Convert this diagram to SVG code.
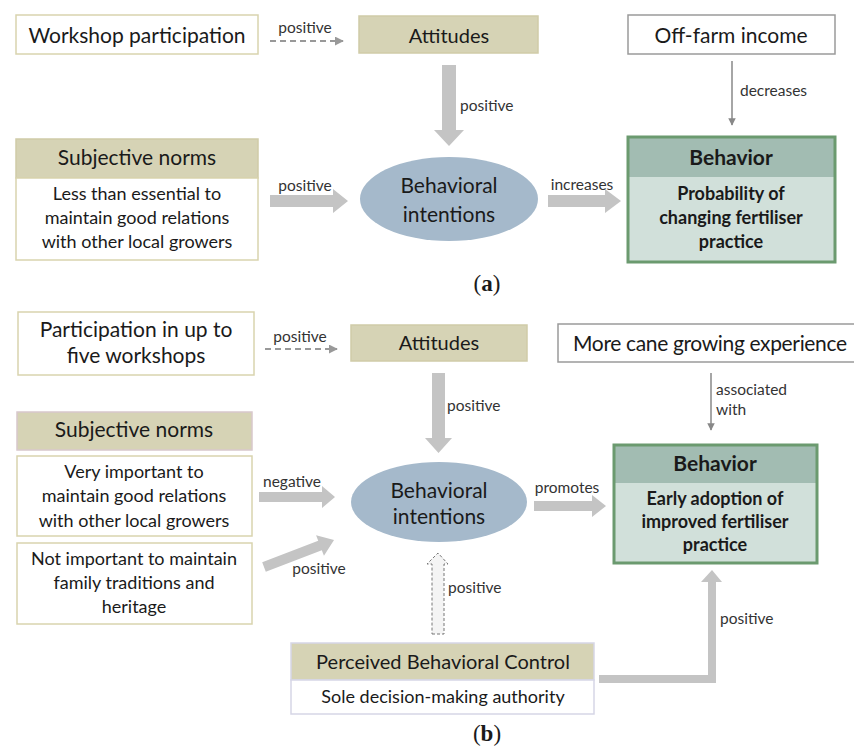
<svg xmlns="http://www.w3.org/2000/svg" width="854" height="747" viewBox="0 0 854 747">
<defs>
<style>
.t{font-family:Lato,"Liberation Sans",sans-serif;fill:#1a1a1a;text-anchor:middle}
.big{font-size:21px}
.mid{font-size:20px}
.sm{font-size:18px}
.lbl{font-family:Lato,"Liberation Sans",sans-serif;fill:#333;font-size:15.5px}
.b{font-weight:bold}
.hb{font-size:21px;font-weight:bold}
.tan{fill:#d6d3b5;stroke:#d0cba8;stroke-width:1.5}
.wbox{fill:#fff;stroke:#d9d4ae;stroke-width:1.5}
.gbox{fill:#fff;stroke:#9a9a9a;stroke-width:1.5}
.ell{fill:#a5b9cb}
.arr{fill:#c4c4c4}
.thin{stroke:#888;stroke-width:1.5;fill:none}
.dash{stroke:#999;stroke-width:2;fill:none;stroke-dasharray:6,4}
.bh{fill:#a2bcb2}
.bb{fill:#d1e0da}
.bo{fill:none;stroke:#6b9a6f;stroke-width:3}
.cap{font-family:"Liberation Serif",serif;font-size:23px;fill:#1a1a1a;text-anchor:middle}
</style>
<marker id="ah" viewBox="0 0 10 10" refX="9" refY="5" markerWidth="5" markerHeight="5" orient="auto"><path d="M0,0L10,5L0,10z" fill="#888"/></marker>
<marker id="ahd" viewBox="0 0 10 10" refX="9" refY="5" markerWidth="4.5" markerHeight="4.5" orient="auto"><path d="M0,0L10,5L0,10z" fill="#999"/></marker>
</defs>

<!-- Panel (a) -->
<g id="a-workshop"><rect class="wbox" x="16" y="15" width="242" height="39"/><text class="t big" x="137" y="43">Workshop participation</text></g>
<g id="a-attitudes"><rect class="tan" x="359" y="16" width="179" height="37"/><text class="t mid" x="449" y="43">Attitudes</text></g>
<g id="a-offfarm"><rect class="gbox" x="628" y="15" width="207" height="39"/><text class="t big" x="731" y="43">Off-farm income</text></g>
<g id="a-norms"><rect class="tan" x="16" y="139" width="242" height="39"/><text class="t big" x="137" y="165">Subjective norms</text>
<rect class="wbox" x="16" y="178" width="242" height="82"/>
<text class="t sm" x="137" y="200">Less than essential to</text><text class="t sm" x="137" y="224">maintain good relations</text><text class="t sm" x="137" y="248">with other local growers</text></g>
<g id="a-intentions"><ellipse class="ell" cx="449" cy="199" rx="89" ry="42"/><text class="t big" x="449" y="193">Behavioral</text><text class="t big" x="449" y="222">intentions</text></g>
<g id="a-behavior"><rect class="bh" x="628" y="137" width="207" height="40"/><rect class="bb" x="628" y="177" width="207" height="85"/><rect class="bo" x="628" y="137" width="207" height="125"/>
<text class="t hb" x="731" y="165">Behavior</text><text class="t sm b" x="731" y="200">Probability of</text><text class="t sm b" x="731" y="224">changing fertiliser</text><text class="t sm b" x="731" y="248">practice</text></g>

<!-- Panel (b) -->
<g id="b-participation"><rect class="wbox" x="18" y="312" width="236" height="63"/><text class="t big" x="136" y="337">Participation in up to</text><text class="t big" x="136" y="363">five workshops</text></g>
<g id="b-attitudes"><rect class="tan" x="351" y="325" width="176" height="36"/><text class="t mid" x="439" y="350">Attitudes</text></g>
<g id="b-experience"><rect class="gbox" x="558" y="324" width="300" height="38"/><text class="t big" x="710" y="351" textLength="274">More cane growing experience</text></g>
<g id="b-norms"><rect x="17" y="412" width="235" height="38" fill="#d6d3b5" stroke="#d8c8cc" stroke-width="1.5"/><text class="t big" x="134" y="437">Subjective norms</text></g>
<g id="b-very"><rect class="wbox" x="17" y="456" width="235" height="80"/><text class="t sm" x="134" y="478">Very important to</text><text class="t sm" x="134" y="502">maintain good relations</text><text class="t sm" x="134" y="527">with other local growers</text></g>
<g id="b-not"><rect class="wbox" x="17" y="543" width="235" height="81"/><text class="t sm" x="134" y="565">Not important to maintain</text><text class="t sm" x="134" y="589">family traditions and</text><text class="t sm" x="134" y="613">heritage</text></g>
<g id="b-intentions"><ellipse class="ell" cx="439" cy="502" rx="88" ry="40"/><text class="t big" x="439" y="498">Behavioral</text><text class="t big" x="439" y="524">intentions</text></g>
<g id="b-behavior"><rect class="bh" x="614" y="445" width="203" height="38"/><rect class="bb" x="614" y="483" width="203" height="80"/><rect class="bo" x="614" y="445" width="203" height="118"/>
<text class="t hb" x="715" y="471">Behavior</text><text class="t sm b" x="715" y="505">Early adoption of</text><text class="t sm b" x="715" y="528">improved fertiliser</text><text class="t sm b" x="715" y="551">practice</text></g>
<g id="b-pbc"><rect class="tan" x="291" y="643" width="303" height="37" style="stroke:#d6d6e6"/><rect x="291" y="680" width="303" height="34" fill="#fff" stroke="#d6d6e6" stroke-width="1.5"/>
<text class="t mid" x="443" y="669">Perceived Behavioral Control</text><text class="t sm" x="443" y="703">Sole decision-making authority</text></g>

<!-- Connectors -->
<g id="connectors">
<line class="dash" x1="270" y1="41" x2="343" y2="41" marker-end="url(#ahd)"/>
<text class="lbl" x="305" y="33" text-anchor="middle">positive</text>
<line class="thin" x1="732" y1="61" x2="732" y2="125" marker-end="url(#ah)"/>
<text class="lbl" x="740" y="96">decreases</text>
<polygon class="arr" points="442,65 456,65 456,130 464,130 449,146 434,130 442,130"/>
<text class="lbl" x="460" y="111">positive</text>
<polygon class="arr" points="270,195 333,195 333,189 348,201 333,213 333,207 270,207"/>
<text class="lbl" x="305" y="191" text-anchor="middle">positive</text>
<polygon class="arr" points="548,195 605,195 605,189 621,201 605,213 605,207 548,207"/>
<text class="lbl" x="582" y="190" text-anchor="middle">increases</text>

<line class="dash" x1="265" y1="349" x2="337" y2="349" marker-end="url(#ahd)"/>
<text class="lbl" x="300" y="342" text-anchor="middle">positive</text>
<line class="thin" x1="711" y1="373" x2="711" y2="430" marker-end="url(#ah)"/>
<text class="lbl" x="716" y="395">associated</text>
<text class="lbl" x="716" y="415">with</text>
<polygon class="arr" points="432,373 445,373 445,438 452,438 438.5,453 425,438 432,438"/>
<text class="lbl" x="447" y="411">positive</text>
<polygon class="arr" points="259,492 322,492 322,486 335,497 322,508 322,502 259,502"/>
<text class="lbl" x="292" y="487" text-anchor="middle">negative</text>
<polygon class="arr" points="0,-5 60,-5 60,-11 75,0 60,11 60,5 0,5" transform="translate(264,567) rotate(-21)"/>
<text class="lbl" x="319" y="574" text-anchor="middle">positive</text>
<polygon class="arr" points="534,501 592,501 592,495 606,506 592,517 592,511 534,511"/>
<text class="lbl" x="567" y="493" text-anchor="middle">promotes</text>
<polygon points="432,634 444,634 444,564 448,564 438,553 427,564 432,564" fill="#f4f4f4" stroke="#777" stroke-width="1" stroke-dasharray="3,2"/>
<text class="lbl" x="448" y="593">positive</text>
<polygon class="arr" points="599,675 708,675 708,582 701,582 712,570 722,582 716,582 716,683 599,683"/>
<text class="lbl" x="720" y="624">positive</text>
</g>

<text class="cap" x="487" y="291">(<tspan font-weight="bold">a</tspan>)</text>
<text class="cap" x="487" y="741">(<tspan font-weight="bold">b</tspan>)</text>
</svg>
